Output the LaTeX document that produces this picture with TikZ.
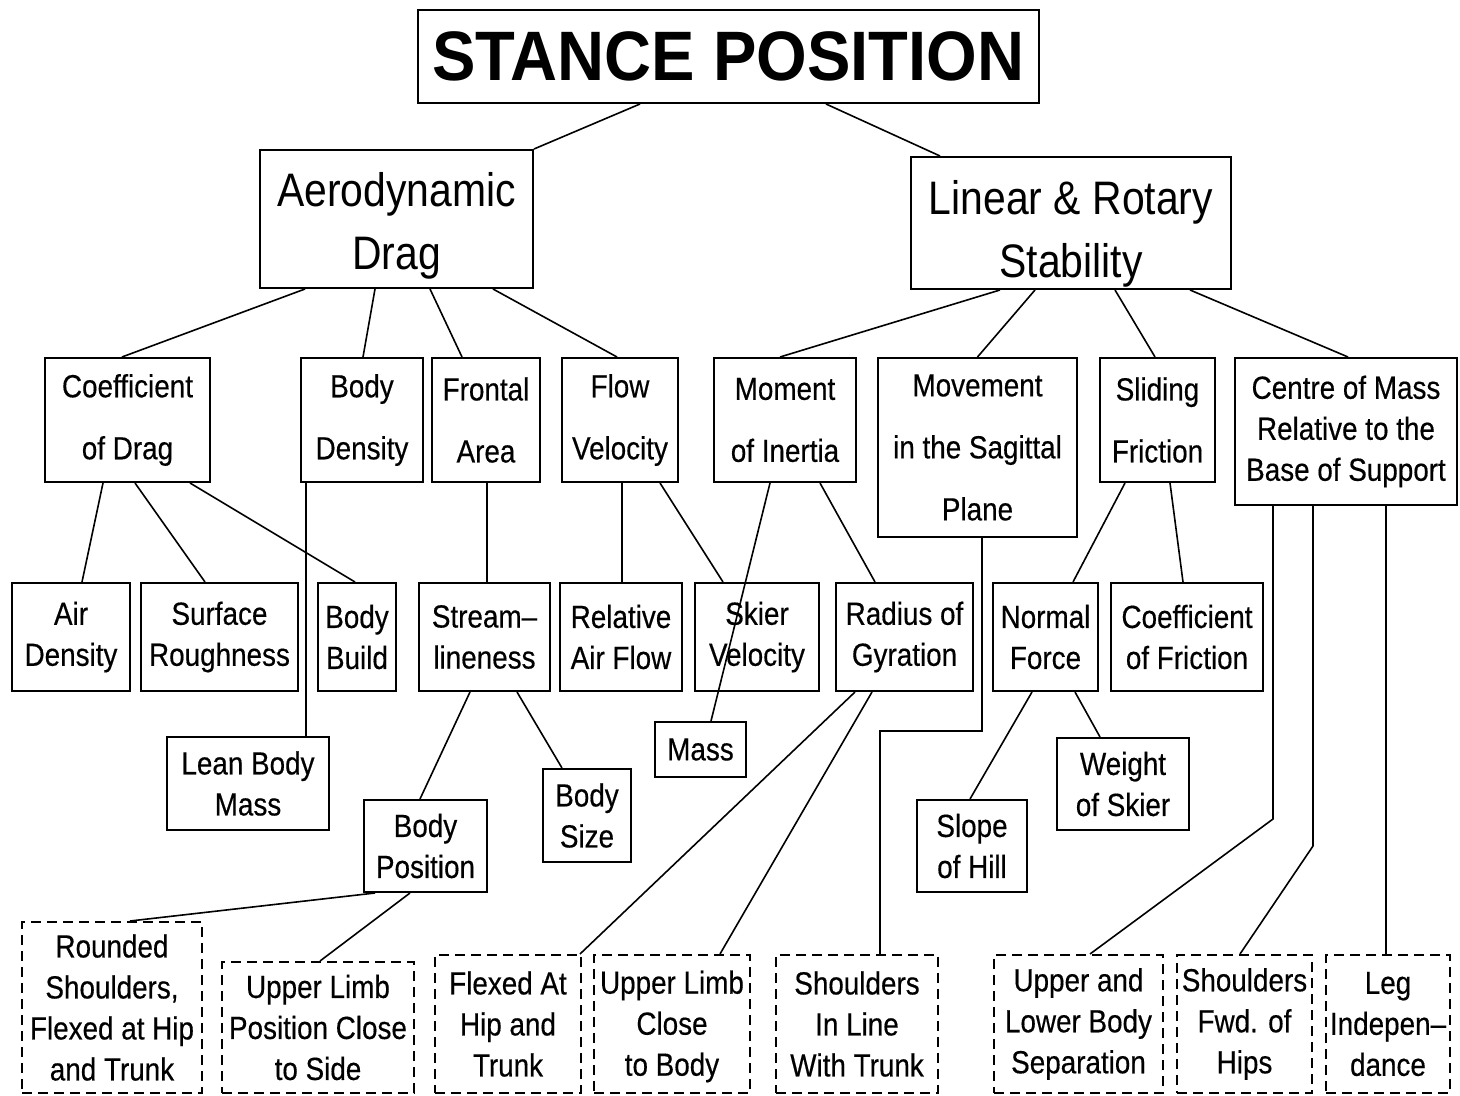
\documentclass[tikz,border=0pt]{standalone}
\usepackage{fontspec}
\setmainfont{Liberation Sans}[FakeStretch=0.87, FakeBold=0.4]
\newfontfamily\titlefont{Liberation Sans}[FakeStretch=0.93]
\newfontfamily\headfont{Liberation Sans}[FakeStretch=0.87]
\begin{document}
\begin{tikzpicture}[x=0.5pt,y=-0.5pt,
  box/.style={draw, line width=1pt, inner sep=0pt, align=center,
    font=\fontsize{16}{20.5}\selectfont},
  tall/.style={font=\fontsize{16}{31}\selectfont},
  big/.style={font=\headfont\fontsize{23.5}{31.5}\selectfont},
  dbox/.style={box, dash pattern=on 5pt off 3pt},
  link/.style={line width=0.8pt}]
\useasboundingbox (0,0) rectangle (1460,1096);

% root
\node[box, font=\titlefont\bfseries\fontsize{35}{40}\selectfont,
  minimum width=310.5pt, minimum height=46.5pt] (title) at (728.5,56.5) {STANCE POSITION};

% main factors
\node[box, big, minimum width=136.5pt, minimum height=69pt] (ad) at (396.5,219) {\rule{0pt}{24pt}Aerodynamic\\Drag};
\node[box, big, minimum width=160pt, minimum height=66pt] (lr) at (1071,223) {\rule{0pt}{28pt}Linear \& Rotary\\Stability};

% second level
\node[box, tall, minimum width=82.5pt, minimum height=62pt] (cod) at (127.5,420) {Coefficient\\of Drag};
\node[box, tall, minimum width=61pt, minimum height=62pt] (bd) at (362,420) {Body\\Density};
\node[box, tall, minimum width=54pt, minimum height=62pt] (fa) at (486,420) {Frontal\\Area};
\node[box, tall, minimum width=58pt, minimum height=62pt] (fv) at (620,420) {Flow\\Velocity};
\node[box, tall, minimum width=71pt, minimum height=62pt] (mi) at (785,420) {Moment\\of Inertia};
\node[box, tall, minimum width=99.5pt, minimum height=89.5pt] (ms) at (977.5,447.5) {Movement\\in the Sagittal\\Plane};
\node[box, tall, minimum width=57.5pt, minimum height=62pt] (sf) at (1157.5,420) {Sliding\\Friction};
\node[box, minimum width=111pt, minimum height=73.5pt] (cm) at (1346,431.5) {Centre of Mass\\Relative to the\\Base of Support};

% third level
\node[box, minimum width=59pt, minimum height=54pt] (airden) at (71,637) {Air\\Density};
\node[box, minimum width=78.5pt, minimum height=54pt] (sr) at (219.5,637) {Surface\\Roughness};
\node[box, minimum width=39pt, minimum height=54pt] (bb) at (357,637) {Body\\Build};
\node[box, minimum width=65.5pt, minimum height=54pt] (sl) at (484.5,637) {Stream–\\lineness};
\node[box, minimum width=61pt, minimum height=54pt] (raf) at (621,637) {Relative\\Air Flow};
\node[box, minimum width=62pt, minimum height=54pt] (sv) at (757,637) {Skier\\Velocity};
\node[box, minimum width=68.5pt, minimum height=54pt] (rg) at (904.5,637) {Radius of\\Gyration};
\node[box, minimum width=52.5pt, minimum height=54pt] (nf) at (1045.5,637) {Normal\\Force};
\node[box, minimum width=76pt, minimum height=54pt] (cf) at (1187,637) {Coefficient\\of Friction};

% fourth level
\node[box, minimum width=81pt, minimum height=46.5pt] (lbm) at (248,783.5) {Lean Body\\Mass};
\node[box, minimum width=45.5pt, minimum height=27.5pt] (mass) at (700.5,749.5) {Mass};
\node[box, minimum width=44pt, minimum height=46.5pt] (bs) at (587,815.5) {Body\\Size};
\node[box, minimum width=61.5pt, minimum height=46pt] (bp) at (425.5,846) {Body\\Position};
\node[box, minimum width=55pt, minimum height=46pt] (soh) at (972,846) {Slope\\of Hill};
\node[box, minimum width=66pt, minimum height=46pt] (wos) at (1123,784) {Weight\\of Skier};

% technique elements (dashed)
\node[dbox, minimum width=90pt, minimum height=85.5pt] (rs) at (112,1007.5) {Rounded\\Shoulders,\\Flexed at Hip\\and Trunk};
\node[dbox, minimum width=96pt, minimum height=65.5pt] (ulp) at (318,1027.5) {Upper Limb\\Position Close\\to Side};
\node[dbox, minimum width=73pt, minimum height=69pt] (fah) at (508,1024) {Flexed At\\Hip and\\Trunk};
\node[dbox, minimum width=78pt, minimum height=69pt] (ulc) at (672,1024) {\rule{0pt}{14pt}Upper Limb\\Close\\to Body};
\node[dbox, minimum width=81pt, minimum height=69pt] (sil) at (857,1024) {Shoulders\\In Line\\With Trunk};
\node[dbox, minimum width=84.5pt, minimum height=69pt] (uls) at (1078.5,1024) {Upper and\\Lower Body\\Separation};
\node[dbox, minimum width=67.5pt, minimum height=69pt] (sfh) at (1244.5,1024) {Shoulders\\Fwd. of\\Hips};
\node[dbox, minimum width=62pt, minimum height=69pt] (li) at (1388,1024) {Leg\\Indepen–\\dance};

% connectors
\draw[link] ([xshift=-44.25pt]title.south) -- (ad.north east);
\draw[link] ([xshift=48.75pt]title.south) -- ([xshift=-65.5pt]lr.north);

\draw[link] ([xshift=-45.75pt]ad.south) -- ([xshift=-2.75pt]cod.north);
\draw[link] ([xshift=-10.75pt]ad.south) -- ([xshift=0.5pt]bd.north);
\draw[link] ([xshift=16.75pt]ad.south) -- ([xshift=-12pt]fa.north);
\draw[link] ([xshift=48.25pt]ad.south) -- ([xshift=-1.5pt]fv.north);

\draw[link] ([xshift=-35.5pt]lr.south) -- ([xshift=-2.5pt]mi.north);
\draw[link] ([xshift=-18pt]lr.south) -- (ms.north);
\draw[link] ([xshift=22pt]lr.south) -- ([xshift=-1.25pt]sf.north);
\draw[link] ([xshift=59.5pt]lr.south) -- ([xshift=1pt]cm.north);

\draw[link] ([xshift=-12.25pt]cod.south) -- ([xshift=5.5pt]airden.north);
\draw[link] ([xshift=3.75pt]cod.south) -- ([xshift=-7.25pt]sr.north);
\draw[link] ([xshift=31.25pt]cod.south) -- ([xshift=-1pt]bb.north);

\draw[link] ([xshift=-28pt]bd.south) -- ([xshift=29pt]lbm.north);
\draw[link] ([xshift=0.5pt]fa.south) -- ([xshift=1.25pt]sl.north);
\draw[link] ([xshift=1pt]fv.south) -- ([xshift=0.5pt]raf.north);
\draw[link] ([xshift=20pt]fv.south) -- ([xshift=-17pt]sv.north);
\draw[link] ([xshift=-7.5pt]mi.south) -- ([xshift=5.25pt]mass.north);
\draw[link] ([xshift=17.5pt]mi.south) -- ([xshift=-14.75pt]rg.north);
\draw[link] ([xshift=2.25pt]ms.south) -- ++(0,193) -| ([xshift=11.5pt]sil.north);
\draw[link] ([xshift=-16.25pt]sf.south) -- ([xshift=13.75pt]nf.north);
\draw[link] ([xshift=6.25pt]sf.south) -- ([xshift=-2pt]cf.north);

\draw[link] ([xshift=-36.5pt]cm.south) -- ++(0,313) -- ([xshift=5.75pt]uls.north);
\draw[link] ([xshift=-16.5pt]cm.south) -- ++(0,340) -- ([xshift=-2.25pt]sfh.north);
\draw[link] ([xshift=20pt]cm.south) -- ([xshift=-1pt]li.north);

\draw[link] ([xshift=-7.25pt]sl.south) -- ([xshift=-2.75pt]bp.north);
\draw[link] ([xshift=16.25pt]sl.south) -- ([xshift=-12.5pt]bs.north);
\draw[link] ([xshift=-25.25pt]bp.south) -- ([xshift=9pt]rs.north);
\draw[link] ([xshift=-7.75pt]bp.south) -- ([xshift=1pt]ulp.north);

\draw[link] ([xshift=-24.75pt]rg.south) -- ([xshift=36pt]fah.north);
\draw[link] ([xshift=-16.25pt]rg.south) -- ([xshift=24pt]ulc.north);
\draw[link] ([xshift=-6.75pt]nf.south) -- ([xshift=-1pt]soh.north);
\draw[link] ([xshift=14.75pt]nf.south) -- ([xshift=-11.5pt]wos.north);
\end{tikzpicture}
\end{document}
